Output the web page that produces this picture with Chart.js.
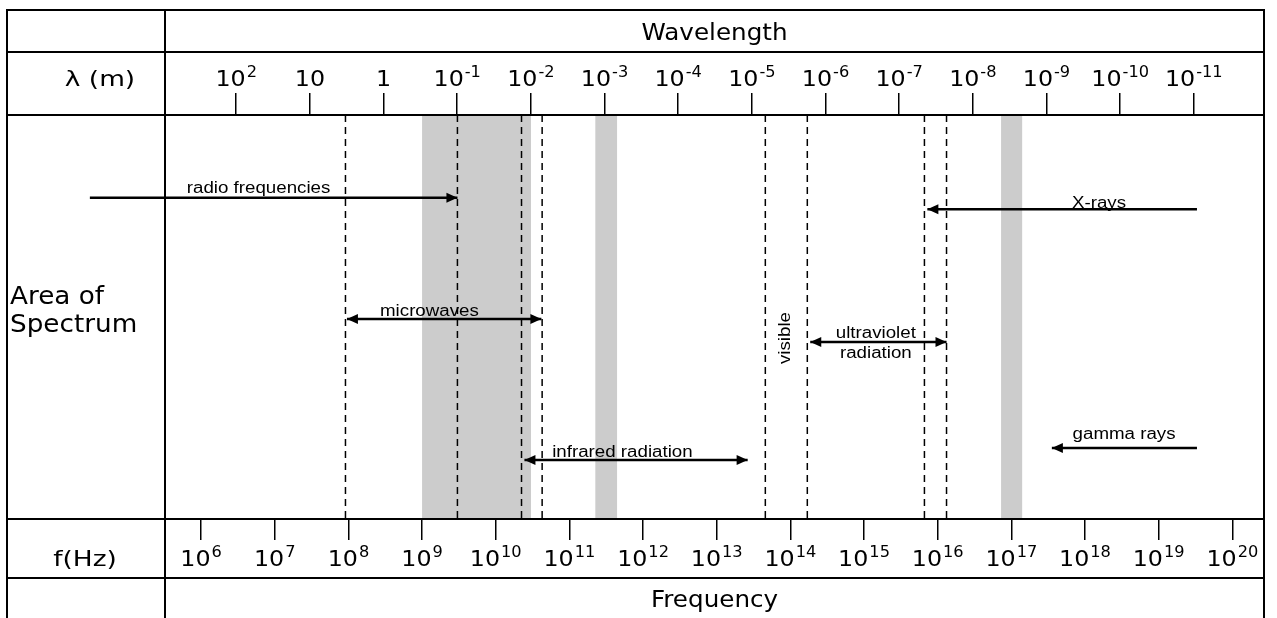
<!DOCTYPE html>
<html lang="en">
<head>
<meta charset="UTF-8">
<title>Electromagnetic Spectrum</title>
<script src="https://cdn.jsdelivr.net/npm/chart.js"></script>
<style>
    html, body { margin: 0; padding: 0; background: #fff; }
    canvas { display: block; }
</style>
</head>
<body>
<canvas id="spectrum" width="1277" height="618"></canvas>
<script>
// x values are log10(f / Hz); wavelength exponent = LOG_C - x
const LOG_C = 8.477;
const freqMin = 5.51;
const freqMax = 20.43;
const freqTicks = [6, 7, 8, 9, 10, 11, 12, 13, 14, 15, 16, 17, 18, 19, 20];
const waveTicks = [2, 1, 0, -1, -2, -3, -4, -5, -6, -7, -8, -9, -10, -11];

// dashed region boundaries and grey overlap bands (log10 f)
const boundaries = [7.96, 9.48, 10.35, 10.63, 13.66, 14.23, 15.82, 16.12];
const bandStart = [9.0, 11.35, 16.86];
const bandEnd = [10.48, 11.65, 17.15];

// spectrum regions: arrow from / to (log10 f), level (0 = bottom, 1 = top)
const regionNames = ['radio frequencies', 'microwaves', 'infrared radiation', 'ultraviolet radiation', 'X-rays', 'gamma rays'];
const regionFrom = [4.49, 7.98, 10.39, 14.27, 15.86, 17.55];
const regionTo = [9.48, 10.62, 13.42, 16.12, 19.52, 19.52];
const regionLevel = [0.795, 0.495, 0.146, 0.438, 0.767, 0.176];
const regionHeads = ['end', 'both', 'both', 'both', 'start', 'start'];

// text labels inside the plot
const labelLines = [['radio frequencies'], ['microwaves'], ['infrared radiation'], ['ultraviolet', 'radiation'], ['X-rays'], ['gamma rays'], ['visible']];
const labelX = [6.78, 9.10, 11.72, 15.16, 18.19, 18.53, 13.92];
const labelY = [0.822, 0.517, 0.168, 0.463, 0.785, 0.213, 0.448];
const labelRotated = [false, false, false, false, false, false, true];

const TABLE_FONT = '"DejaVu Sans", Verdana, sans-serif';
const LABEL_FONT = '"Liberation Sans", Arial, sans-serif';

const datasets = [];
bandStart.forEach((a, i) => {
    datasets.push({
        data: [{x: a, y: 1}, {x: bandEnd[i], y: 1}],
        fill: 'start',
        backgroundColor: '#cccccc',
        borderWidth: 0,
        order: 3
    });
});
boundaries.forEach(b => {
    datasets.push({
        data: [{x: b, y: 1}, {x: b, y: 0}],
        borderColor: '#000',
        borderWidth: 1.5,
        borderDash: [7, 5],
        order: 2
    });
});
regionNames.forEach((name, i) => {
    datasets.push({
        label: name,
        data: [{x: regionFrom[i], y: regionLevel[i]}, {x: regionTo[i], y: regionLevel[i]}],
        borderColor: '#000',
        borderWidth: 2.5,
        heads: regionHeads[i],
        clip: false,
        order: 1
    });
});

// text squeezed/stretched horizontally by sx, like the scanned figure
function putText(ctx, str, x, y, size, family, align, sx) {
    ctx.save();
    ctx.font = size + 'px ' + family;
    ctx.textAlign = align;
    ctx.textBaseline = 'alphabetic';
    ctx.translate(x, y);
    ctx.scale(sx, 1);
    ctx.fillText(str, 0, 0);
    ctx.restore();
}

function drawPower(ctx, base, exp, cx, baseline, size, sx) {
    const supSize = Math.round(size * 0.68);
    ctx.font = size + 'px ' + TABLE_FONT;
    const w1 = ctx.measureText(base).width * sx;
    let w2 = 0;
    if (exp !== '') {
        ctx.font = supSize + 'px ' + TABLE_FONT;
        w2 = ctx.measureText(exp).width * sx + 1;
    }
    const x0 = cx - (w1 + w2) / 2;
    putText(ctx, base, x0, baseline, size, TABLE_FONT, 'left', sx);
    if (exp !== '') putText(ctx, exp, x0 + w1 + 1, baseline - size * 0.42, supSize, TABLE_FONT, 'left', sx);
}

function arrowHead(ctx, tipX, tipY, dir) {
    const len = 11, half = 5;
    ctx.beginPath();
    ctx.moveTo(tipX, tipY);
    ctx.lineTo(tipX - dir * len, tipY - half);
    ctx.lineTo(tipX - dir * len, tipY + half);
    ctx.closePath();
    ctx.fill();
}

const spectrumTable = {
    id: 'spectrumTable',
    beforeDraw(chart) {
        const ctx = chart.ctx;
        ctx.save();
        ctx.fillStyle = '#fff';
        ctx.fillRect(0, 0, chart.width, chart.height);
        ctx.restore();
    },
    afterDatasetsDraw(chart) {
        const ctx = chart.ctx;
        const xs = chart.scales.x, ys = chart.scales.y;
        ctx.save();
        ctx.fillStyle = '#000';
        chart.data.datasets.forEach((ds, i) => {
            if (!ds.heads) return;
            const pts = chart.getDatasetMeta(i).data;
            const a = pts[0], b = pts[1];
            if (ds.heads === 'start' || ds.heads === 'both') arrowHead(ctx, a.x, a.y, -1);
            if (ds.heads === 'end' || ds.heads === 'both') arrowHead(ctx, b.x, b.y, 1);
        });
        labelLines.forEach((lines, i) => {
            const px = xs.getPixelForValue(labelX[i]);
            const py = ys.getPixelForValue(labelY[i]);
            if (labelRotated[i]) {
                ctx.save();
                ctx.translate(px, py);
                ctx.rotate(-Math.PI / 2);
                putText(ctx, lines[0], 0, 6, 16, LABEL_FONT, 'center', 1.17);
                ctx.restore();
            } else {
                lines.forEach((t, j) => putText(ctx, t, px, py + 6 + j * 20, 16, LABEL_FONT, 'center', 1.17));
            }
        });
        ctx.restore();
    },
    afterDraw(chart) {
        const ctx = chart.ctx;
        const area = chart.chartArea;
        const xs = chart.scales.x, x2 = chart.scales.x2;
        const left = 7, right = area.right, top = 10, bottom = chart.height;
        ctx.save();
        ctx.strokeStyle = '#000';
        ctx.lineWidth = 2;
        ctx.beginPath();
        [top, 52, area.top, area.bottom, 578].forEach(y => {
            ctx.moveTo(left - 1, y);
            ctx.lineTo(right + 1, y);
        });
        [left, area.left, right].forEach(x => {
            ctx.moveTo(x, top - 1);
            ctx.lineTo(x, bottom);
        });
        ctx.stroke();

        ctx.fillStyle = '#000';
        const mid = (area.left + area.right) / 2;
        putText(ctx, 'Wavelength', mid, 40, 23, TABLE_FONT, 'center', 1.07);
        putText(ctx, 'Frequency', mid, 607, 23, TABLE_FONT, 'center', 1.07);
        putText(ctx, 'λ (m)', 100, 86, 22, TABLE_FONT, 'center', 1.2);
        putText(ctx, 'f(Hz)', 85, 566, 22, TABLE_FONT, 'center', 1.2);
        putText(ctx, 'Area of', 10, 304, 25, TABLE_FONT, 'left', 1.05);
        putText(ctx, 'Spectrum', 10, 332, 25, TABLE_FONT, 'left', 1.05);

        waveTicks.forEach(k => {
            const px = x2.getPixelForValue(k);
            if (k === 1) drawPower(ctx, '10', '', px, 86, 22, 1.08);
            else if (k === 0) drawPower(ctx, '1', '', px, 86, 22, 1.08);
            else drawPower(ctx, '10', String(k), px, 86, 22, 1.08);
        });
        freqTicks.forEach(e => {
            drawPower(ctx, '10', String(e), xs.getPixelForValue(e), 566, 22, 1.08);
        });
        ctx.restore();
    }
};

const tickAxis = (ticks, len, height) => ({
    type: 'linear',
    afterBuildTicks: scale => { scale.ticks = ticks.map(v => ({value: v})); },
    afterFit: scale => { scale.height = height; },
    grid: {drawOnChartArea: false, drawTicks: true, tickLength: len, color: '#000', lineWidth: 1.5},
    border: {display: false},
    ticks: {display: false}
});

new Chart(document.getElementById('spectrum'), {
    type: 'scatter',
    data: {datasets: datasets},
    options: {
        responsive: false,
        animation: false,
        devicePixelRatio: 1,
        showLine: true,
        layout: {padding: {left: 165, right: 13, top: 0, bottom: 0}},
        elements: {point: {radius: 0, hoverRadius: 0}, line: {tension: 0}},
        plugins: {legend: {display: false}, tooltip: {enabled: false}},
        events: [],
        scales: {
            x: Object.assign(tickAxis(freqTicks, 21, 99), {position: 'bottom', min: freqMin, max: freqMax}),
            x2: Object.assign(tickAxis(waveTicks, 22, 115), {position: 'top', reverse: true, min: LOG_C - freqMax, max: LOG_C - freqMin}),
            y: {display: false, min: 0, max: 1}
        }
    },
    plugins: [spectrumTable]
});
</script>
</body>
</html>
